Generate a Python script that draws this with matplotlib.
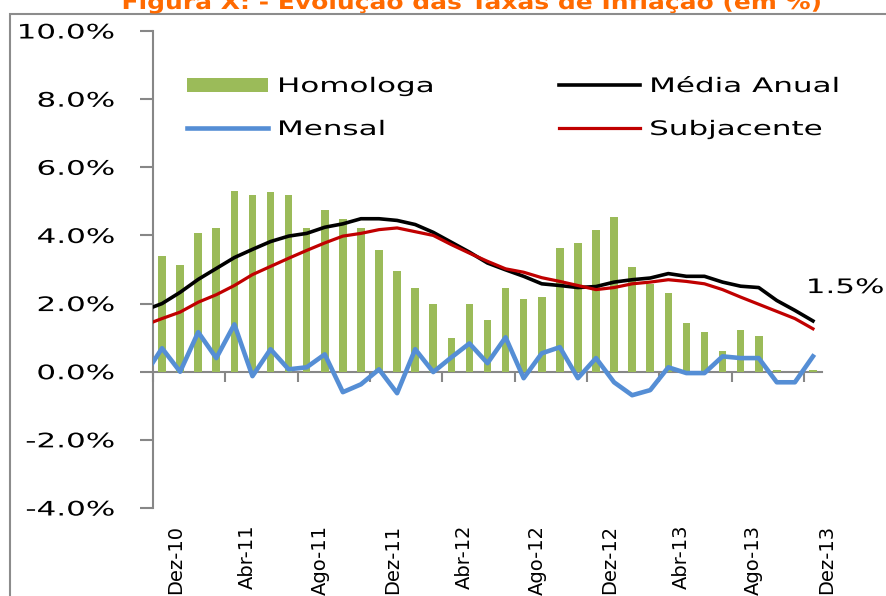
import matplotlib
matplotlib.use('Agg')
import matplotlib.pyplot as plt
import matplotlib.transforms as mtransforms
from matplotlib.patheffects import AbstractPathEffect
from matplotlib.patches import Rectangle
import numpy as np

plt.rcParams['font.family'] = ['DejaVu Sans']

# months Nov-10 .. Dez-13 (Nov-10 only feeds the clipped first line segment)
months = ['Nov-10', 'Dez-10', 'Jan-11', 'Fev-11', 'Mar-11', 'Abr-11', 'Mai-11', 'Jun-11', 'Jul-11',
          'Ago-11', 'Set-11', 'Out-11', 'Nov-11', 'Dez-11', 'Jan-12', 'Fev-12', 'Mar-12',
          'Abr-12', 'Mai-12', 'Jun-12', 'Jul-12', 'Ago-12', 'Set-12', 'Out-12', 'Nov-12',
          'Dez-12', 'Jan-13', 'Fev-13', 'Mar-13', 'Abr-13', 'Mai-13', 'Jun-13', 'Jul-13',
          'Ago-13', 'Set-13', 'Out-13', 'Nov-13', 'Dez-13']

homologa = [np.nan, 3.39, 3.12, 4.06, 4.21, 5.31, 5.20, 5.26, 5.20, 4.21, 4.76, 4.49, 4.21,
            3.56, 2.96, 2.47, 1.98, 0.99, 1.98, 1.53, 2.46, 2.14, 2.19, 3.62, 3.77,
            4.16, 4.55, 3.07, 2.58, 2.30, 1.43, 1.16, 0.60, 1.21, 1.04, 0.06, 0.0, 0.06]

media_anual = [1.80, 2.00, 2.33, 2.71, 3.03, 3.35, 3.59, 3.82, 3.98, 4.06, 4.24, 4.34, 4.49,
               4.49, 4.44, 4.32, 4.09, 3.80, 3.51, 3.19, 2.99, 2.80, 2.58, 2.53, 2.47,
               2.50, 2.63, 2.70, 2.75, 2.88, 2.80, 2.80, 2.63, 2.51, 2.47, 2.09, 1.80, 1.49]

mensal = [-0.13, 0.69, 0.0, 1.16, 0.40, 1.39, -0.13, 0.66, 0.07, 0.13, 0.51, -0.60, -0.37,
          0.07, -0.63, 0.66, -0.01, 0.42, 0.83, 0.25, 1.01, -0.19, 0.54, 0.72, -0.19,
          0.40, -0.31, -0.69, -0.54, 0.13, -0.04, -0.04, 0.45, 0.40, 0.40, -0.31, -0.31, 0.45]

subjacente = [1.36, 1.56, 1.75, 2.04, 2.26, 2.53, 2.85, 3.09, 3.33, 3.56, 3.78, 3.98, 4.06,
              4.17, 4.22, 4.11, 4.00, 3.73, 3.48, 3.24, 3.02, 2.92, 2.76, 2.65, 2.53,
              2.41, 2.47, 2.58, 2.63, 2.70, 2.65, 2.58, 2.41, 2.19, 1.98, 1.77, 1.56, 1.26]

tick_labels = ['Dez-10', 'Abr-11', 'Ago-11', 'Dez-11', 'Abr-12', 'Ago-12', 'Dez-12',
               'Abr-13', 'Ago-13', 'Dez-13']
y_ticks = [-4, -2, 0, 2, 4, 6, 8, 10]
last_label = '1.5%'

x = np.arange(len(months)) - 1  # Dez-10 -> 0

GREEN = '#9BBB59'
BLUE = '#558ED5'
RED = '#C00000'
GREY = '#878787'


class Stretch(AbstractPathEffect):
    """widen text glyphs horizontally (the source image is stretched)"""
    def __init__(self, sx, anchor='left'):
        super().__init__()
        self.sx = sx
        self.anchor = anchor

    def draw_path(self, renderer, gc, tpath, affine, rgbFace=None):
        ext = tpath.get_extents()
        if self.anchor == 'right':
            x0 = ext.x1
        elif self.anchor == 'center':
            x0 = (ext.x0 + ext.x1) / 2
        else:
            x0 = 0
        st = mtransforms.Affine2D().translate(-x0, 0).scale(self.sx, 1).translate(x0, 0)
        renderer.draw_path(gc, tpath, st + affine, rgbFace)


fig = plt.figure(figsize=(8.87, 5.96), dpi=100)
ax = fig.add_axes([153/887, 1 - 508/596, (822 - 153)/887, (508 - 31)/596])

ax.bar(x, homologa, width=0.42, color=GREEN, label='Homologa', zorder=2)
ax.plot(x, mensal, color=BLUE, lw=3.3, label='Mensal', zorder=3)
ax.plot(x, media_anual, color='black', lw=2.6, label='Média Anual', zorder=4)
ax.plot(x, subjacente, color=RED, lw=2.3, label='Subjacente', zorder=5)

ax.set_xlim(-0.5, 36.5)
ax.set_ylim(-4, 10)

for s in ['top', 'right', 'bottom']:
    ax.spines[s].set_visible(False)
ax.spines['left'].set_color(GREY)
ax.spines['left'].set_linewidth(1.5)

ax.set_yticks(y_ticks)
ax.set_yticklabels(['%.1f%%' % v for v in y_ticks])
ax.tick_params(axis='y', direction='out', length=9.5, width=1.5, color=GREY,
               labelsize=14.4, pad=18)
for lab in ax.get_yticklabels():
    lab.set_path_effects([Stretch(1.55, 'right')])

# category labels at the bottom of the plot
ax.set_xticks(x[1::4])
ax.set_xticklabels(tick_labels, rotation=90, va='top', ha='center')
ax.tick_params(axis='x', length=0, labelsize=14, pad=12)
shift = mtransforms.ScaledTranslation(9.5/72, 0, fig.dpi_scale_trans)
for lab in ax.get_xticklabels():
    lab.set_transform(lab.get_transform() + shift)

# the category axis line sits at 0%
zero_ax = ax.secondary_xaxis(4/14)
zero_ax.set_xticks(np.arange(-0.5, 37, 4))
zero_ax.tick_params(direction='out', length=7, width=1.5, color=GREY, labelbottom=False)
zero_ax.spines['bottom'].set_color(GREY)
zero_ax.spines['bottom'].set_linewidth(1.5)

t = ax.text(35.6, 2.47, last_label, ha='left', va='center', fontsize=14.4, clip_on=False)
t.set_path_effects([Stretch(1.55, 'left')])

handles, labels = ax.get_legend_handles_labels()
order = [labels.index(n) for n in ['Homologa', 'Mensal', 'Média Anual', 'Subjacente']]
leg = fig.legend([handles[i] for i in order], [labels[i] for i in order],
                 loc='upper left', bbox_to_anchor=(187/887, 1 - 77/596), ncol=2,
                 frameon=False, fontsize=14.4, borderpad=0, borderaxespad=0,
                 handlelength=4.05, handletextpad=0.45, columnspacing=9.0,
                 labelspacing=1.2)
for txt in leg.get_texts():
    txt.set_path_effects([Stretch(1.55, 'left')])

title = fig.text(472/887, 1 - 9/596, 'Figura X: - Evolução das Taxas de Inflação (em %)',
                 ha='center', va='baseline', fontsize=15, fontweight='bold', color='#FF6A00')
title.set_path_effects([Stretch(1.2, 'center')])

fig.add_artist(Rectangle((10/887, -0.1), 1.2, 1.1 - 14/596, transform=fig.transFigure,
                         fill=False, ec='#8C8C8C', lw=1.5))

fig.savefig('out.png', dpi=100, facecolor='white')
